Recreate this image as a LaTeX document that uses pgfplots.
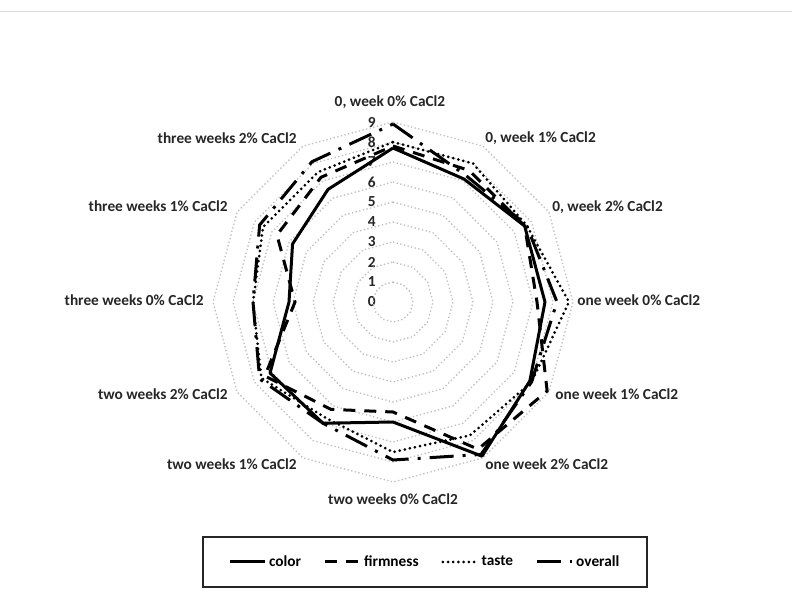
\documentclass[border=0pt]{standalone}
\usepackage{fontspec}
\setmainfont{Carlito}
\usepackage{pgfplots}
\pgfplotsset{compat=1.18}
\usepackage{pgfplotstable}
\usepgfplotslibrary{polar}

% angle (deg, polar) and scores per sample; last row closes the polygon
\pgfplotstableread{
a    color firmness taste overall
90   7.7   7.8   8.0   8.9
60   7.1   7.6   8.0   7.3
30   7.6   7.6   7.7   7.7
0    7.6   7.2   8.8   8.2
330  7.9   8.9   8.0   8.0
300  8.9   8.5   7.7   8.8
270  6.0   5.5   7.5   7.9
240  7.0   6.2   6.7   7.0
210  7.1   7.4   7.6   7.7
180  5.2   4.9   7.0   7.0
150  5.8   6.7   7.5   7.7
120  6.5   7.2   7.5   8.1
90   7.7   7.8   8.0   8.9
}\radar

\newcommand{\lbl}{\bfseries\fontsize{11.5}{13}\selectfont}

\begin{document}
\begin{tikzpicture}
\path[use as bounding box] (0pt,0pt) rectangle (594pt,444.75pt);
\draw[black!15, line width=0.75pt] (0pt,435.75pt) -- (594pt,435.75pt);

% radial scale (under the series)
\foreach \v in {0,...,9} {
  \node[anchor=east, inner sep=0pt, font=\lbl, black!85] at (282pt, {218.25pt + 15pt*\v}) {\v};
}

\begin{polaraxis}[
    at={(294.75pt,218.25pt)}, anchor=center,
    width=270pt, height=270pt, scale only axis,
    xmin=0, xmax=360, ymin=0, ymax=9,
    hide axis, clip=false,
    grd/.style={black!25, line width=1pt, dash pattern=on 1pt off 1.8pt, forget plot},
    legend style={at={(0.5900,-0.2222)}, anchor=center, draw=none, fill=none,
        legend columns=4, font=\lbl,
        /tikz/every even column/.append style={column sep=15pt}},
    legend image code/.code={\draw[#1] (0pt,0pt) -- (26pt,0pt);},
]
\pgfplotsinvokeforeach{1,...,9}{
  \addplot[grd] coordinates {(90,#1) (60,#1) (30,#1) (0,#1) (330,#1) (300,#1) (270,#1)
    (240,#1) (210,#1) (180,#1) (150,#1) (120,#1) (90,#1)};
}
\addplot[black, line width=2.25pt, line join=round] table[x=a, y=color] {\radar};
\addplot[black, line width=2.25pt, dash pattern=on 9pt off 6.75pt] table[x=a, y=firmness] {\radar};
\addplot[black, line width=2.25pt, line cap=round, dash pattern=on 0pt off 3.9pt] table[x=a, y=taste] {\radar};
\addplot[black, line width=2.25pt, dash pattern=on 18pt off 6.75pt on 2.25pt off 6.75pt] table[x=a, y=overall] {\radar};
\legend{color, firmness, taste, overall}
\end{polaraxis}

% category labels
\begin{scope}[every node/.style={inner sep=0pt, font=\lbl, black!85, text height=8pt, text depth=2pt}]
\node[anchor=center] at (292.5pt,367.5pt) {0, week 0\% CaCl2};
\node[anchor=west] at (363.75pt,340.5pt) {0, week 1\% CaCl2};
\node[anchor=west] at (414pt,288.75pt) {0, week 2\% CaCl2};
\node[anchor=west] at (432.75pt,218.25pt) {one week 0\% CaCl2};
\node[anchor=west] at (416.25pt,148.5pt) {one week 1\% CaCl2};
\node[anchor=west] at (363.75pt,96pt) {one week 2\% CaCl2};
\node[anchor=center] at (294.75pt,69.75pt) {two weeks 0\% CaCl2};
\node[anchor=east] at (222.75pt,96pt) {two weeks 1\% CaCl2};
\node[anchor=east] at (171pt,148.5pt) {two weeks 2\% CaCl2};
\node[anchor=east] at (153pt,218.25pt) {three weeks 0\% CaCl2};
\node[anchor=east] at (171pt,288.75pt) {three weeks 1\% CaCl2};
\node[anchor=east] at (222.75pt,339.75pt) {three weeks 2\% CaCl2};
\end{scope}

% legend frame
\draw[black!85, line width=1.1pt] (152.25pt,4.5pt) rectangle (485.25pt,42pt);
\end{tikzpicture}
\end{document}
